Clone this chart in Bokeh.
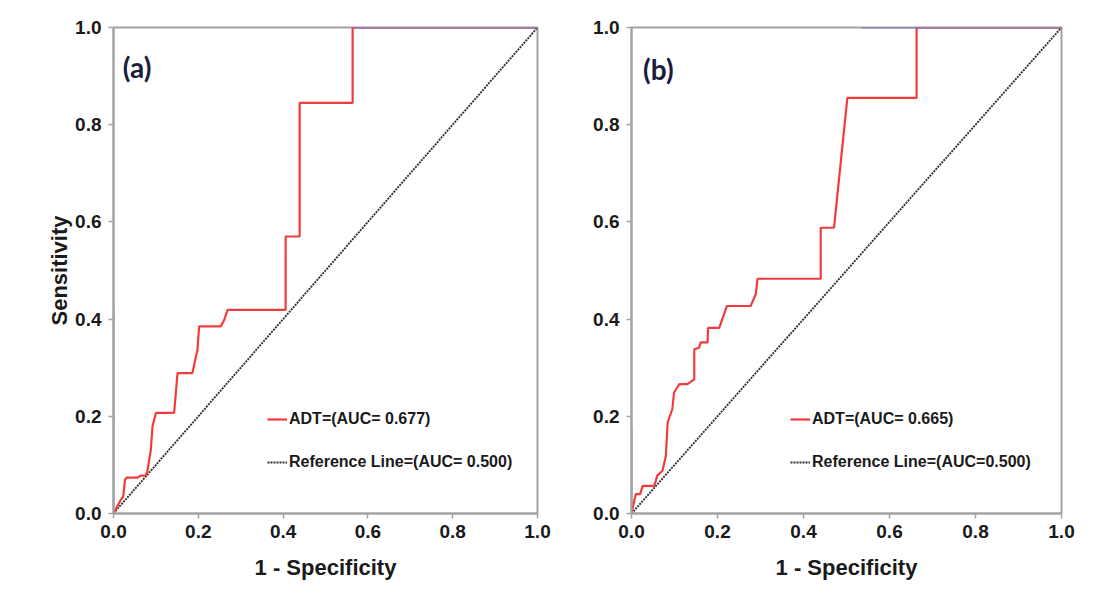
from bokeh.plotting import figure
from bokeh.layouts import row
from bokeh.models import (Range1d, FixedTicker, NumeralTickFormatter, Legend,
                          LegendItem, Label)
from bokeh.embed import file_html
from bokeh.resources import INLINE

# ---------------- data ----------------
ticks = [0.0, 0.2, 0.4, 0.6, 0.8, 1.0]

a_fpr = [0.000, 0.017, 0.023, 0.027, 0.031, 0.057, 0.064, 0.076, 0.080, 0.088,
         0.092, 0.100, 0.143, 0.151, 0.186, 0.198, 0.202, 0.253, 0.261, 0.269,
         0.406, 0.406, 0.439, 0.439, 0.564, 0.564, 1.000]
a_tpr = [0.000, 0.028, 0.035, 0.069, 0.074, 0.074, 0.078, 0.078, 0.087, 0.131,
         0.179, 0.207, 0.207, 0.289, 0.289, 0.337, 0.385, 0.385, 0.398, 0.419,
         0.419, 0.570, 0.570, 0.845, 0.845, 1.000, 1.000]

b_fpr = [0.000, 0.010, 0.020, 0.026, 0.053, 0.060, 0.072, 0.080, 0.084, 0.095,
         0.099, 0.111, 0.130, 0.146, 0.146, 0.157, 0.161, 0.177, 0.178, 0.204,
         0.222, 0.277, 0.289, 0.293, 0.440, 0.440, 0.471, 0.502, 0.663, 0.663,
         1.000]
b_tpr = [0.000, 0.040, 0.040, 0.057, 0.057, 0.078, 0.088, 0.119, 0.187, 0.215,
         0.249, 0.266, 0.266, 0.276, 0.338, 0.341, 0.352, 0.352, 0.382, 0.382,
         0.427, 0.427, 0.451, 0.483, 0.483, 0.588, 0.588, 0.855, 0.855, 1.000,
         1.000]

ref_x = [0.0, 1.0]
ref_y = [0.0, 1.0]

# faint blue edge segments visible in the original SPSS output
a_top_x = [0.564, 1.0]
a_top_y = [1.0, 1.0]
a_left_x = [0.0, 0.0]
a_left_y = [0.0, 0.425]
b_top_x = [0.534, 1.0]
b_top_y = [1.0, 1.0]
b_left_x = [0.0, 0.0]
b_left_y = [0.0, 0.18]

a_labels = ["ADT=(AUC= 0.677)", "Reference Line=(AUC= 0.500)"]
b_labels = ["ADT=(AUC= 0.665)", "Reference Line=(AUC=0.500)"]
panel_names = ["(a)", "(b)"]

FONT = "Liberation Sans"
GRAY = "#a3a3a3"
RED = "#f03c3c"


def make_panel(fpr, tpr, top_x, top_y, left_x, left_y, labels, name,
               width, bl, br, show_ylabel, leg_x, name_x, name_y):
    p = figure(width=width, height=582, output_backend="svg",
               toolbar_location=None, x_range=Range1d(0, 1),
               y_range=Range1d(0, 1), min_border_left=bl,
               min_border_right=br, min_border_top=27, min_border_bottom=68)
    p.grid.visible = False
    p.outline_line_color = GRAY
    p.outline_line_width = 2
    p.background_fill_color = "white"
    p.border_fill_color = "white"

    for ax in (p.xaxis[0], p.yaxis[0]):
        ax.ticker = FixedTicker(ticks=ticks)
        ax.formatter = NumeralTickFormatter(format="0.0")
        ax.axis_line_color = GRAY
        ax.axis_line_width = 2
        ax.major_tick_line_color = GRAY
        ax.major_tick_line_width = 1.5
        ax.major_tick_out = 5
        ax.major_tick_in = 0
        ax.minor_tick_line_color = None
        ax.major_label_text_font = FONT
        ax.major_label_text_font_style = "bold"
        ax.major_label_text_font_size = "19px"
        ax.major_label_text_color = "#1a1a1a"
        ax.axis_label_text_font = FONT
        ax.axis_label_text_font_style = "bold"
        ax.axis_label_text_font_size = "22px"
        ax.axis_label_text_color = "#1a1a1a"

    p.xaxis.major_label_standoff = 6
    p.yaxis.major_label_standoff = 7
    p.xaxis.axis_label = "1 - Specificity"
    p.xaxis.axis_label_standoff = 14
    if show_ylabel:
        p.yaxis.axis_label = "Sensitivity"
        p.yaxis.axis_label_standoff = 0

    # faint blue edges
    p.line(left_x, left_y, line_color="#9c9cd6", line_width=2.5, line_alpha=0.8)
    r_ref = p.line(ref_x, ref_y, line_color="#333333", line_width=1.9,
                   line_dash="2 1")
    r_roc = p.line(fpr, tpr, line_color=RED, line_width=2.2)
    p.line(top_x, top_y, line_color="#7a7ac4", line_width=2)

    legend = Legend(items=[LegendItem(label=labels[0], renderers=[r_roc]),
                           LegendItem(label=labels[1], renderers=[r_ref])],
                    location=(leg_x, 41), orientation="vertical")
    legend.padding = 0
    legend.margin = 0
    legend.spacing = 23
    legend.label_height = 20
    legend.glyph_height = 20
    legend.glyph_width = 20
    legend.label_standoff = 2
    legend.border_line_color = None
    legend.background_fill_alpha = 0
    legend.label_text_font = FONT
    legend.label_text_font_style = "bold"
    legend.label_text_font_size = "16px"
    legend.label_text_color = "#1a1a1a"
    p.add_layout(legend, "center")

    p.add_layout(Label(x=name_x, y=name_y, text=name, text_font="Lato",
                       text_font_style="bold", text_font_size="28px",
                       text_color="#1c1c3c", text_baseline="middle",
                       text_align="left"))
    return p


pa = make_panel(a_fpr, a_tpr, a_top_x, a_top_y, a_left_x, a_left_y, a_labels,
                panel_names[0], 568, 113, 31, True, 154, 0.022, 0.918)
pb = make_panel(b_fpr, b_tpr, b_top_x, b_top_y, b_left_x, b_left_y, b_labels,
                panel_names[1], 524, 63, 31, False, 159, 0.027, 0.914)

layout = row(pa, pb)
open("out.html", "w").write(file_html(layout, INLINE))
